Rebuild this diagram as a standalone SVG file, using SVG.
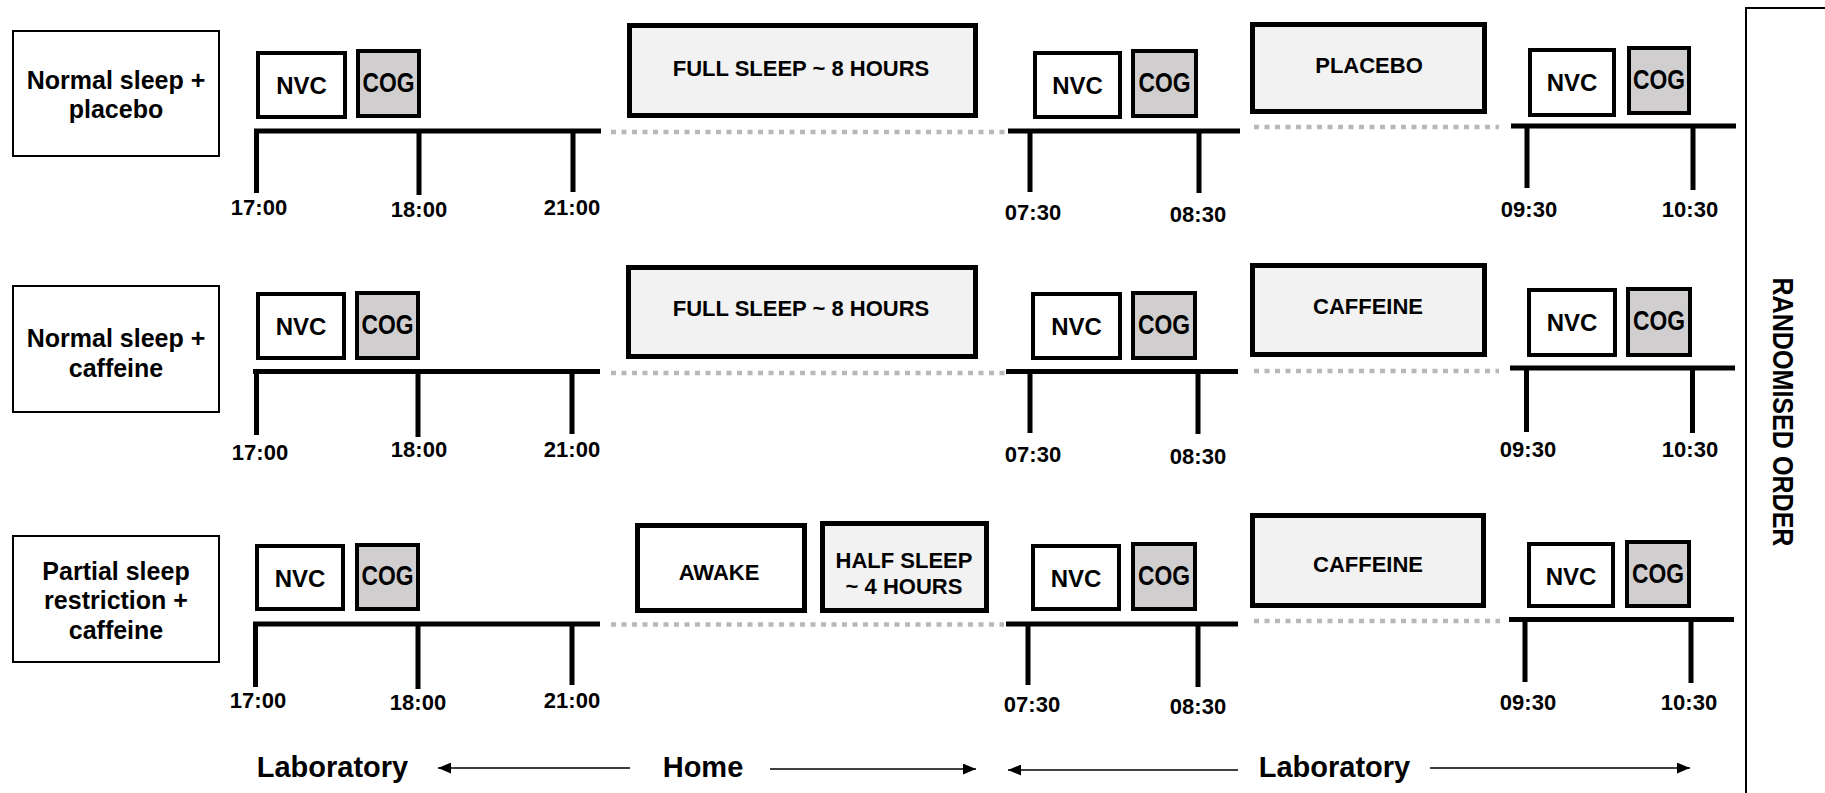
<svg xmlns="http://www.w3.org/2000/svg" width="1825" height="793" viewBox="0 0 1825 793">
<style>
text{font-family:"Liberation Sans",Arial,sans-serif;font-weight:bold;fill:#000;text-anchor:middle}
.lbl{fill:#fff;stroke:#000;stroke-width:2}
.nvc{fill:#fff;stroke:#000;stroke-width:4}
.cog{fill:#d0cece;stroke:#000;stroke-width:4}
.big{fill:#f2f2f2;stroke:#000;stroke-width:5}
.awk{fill:#fff;stroke:#000;stroke-width:5}
.t25{font-size:25px}
.t24{font-size:24px}
.t28{font-size:28px}
.t22{font-size:22px}
.t29{font-size:29px}
.tl{stroke:#000;stroke-width:5;fill:none}
.dot{stroke:#b8b8b8;stroke-width:4.5;stroke-dasharray:5 5.5;fill:none}
.arr{stroke:#000;stroke-width:1.6;fill:none;marker-end:url(#ah)}
</style>
<defs>
<marker id="ah" markerUnits="userSpaceOnUse" markerWidth="13" markerHeight="11" refX="12" refY="5" orient="auto" viewBox="0 0 12 10">
<path d="M0,0 L12,5 L0,10 z" fill="#000"/>
</marker>
</defs>
<rect x="0" y="0" width="1825" height="793" fill="#fff"/>

<!-- Row labels -->
<g id="label-row1"><rect class="lbl" x="13" y="31" width="206" height="125"/>
<text class="t25" x="116" y="89">Normal sleep +</text><text class="t25" x="116" y="118">placebo</text></g>
<g id="label-row2"><rect class="lbl" x="13" y="286" width="206" height="126"/>
<text class="t25" x="116" y="347">Normal sleep +</text><text class="t25" x="116" y="377">caffeine</text></g>
<g id="label-row3"><rect class="lbl" x="13" y="536" width="206" height="126"/>
<text class="t25" x="116" y="580">Partial sleep</text><text class="t25" x="116" y="609">restriction +</text><text class="t25" x="116" y="639">caffeine</text></g>

<!-- Row 1 -->
<g id="r1-nvc1"><rect class="nvc" x="258" y="53" width="87" height="64"/><text class="t24" x="301.5" y="94">NVC</text></g>
<g id="r1-cog1"><rect class="cog" x="358" y="51" width="61" height="65"/><text class="t28" x="388.5" y="92" textLength="52" lengthAdjust="spacingAndGlyphs">COG</text></g>
<g id="r1-sleep"><rect class="big" x="629.5" y="25.5" width="346" height="90"/><text class="t22" x="801" y="76">FULL SLEEP ~ 8 HOURS</text></g>
<g id="r1-nvc2"><rect class="nvc" x="1035" y="53" width="85" height="64"/><text class="t24" x="1077.5" y="94">NVC</text></g>
<g id="r1-cog2"><rect class="cog" x="1133" y="51" width="63" height="65"/><text class="t28" x="1164.5" y="92" textLength="52" lengthAdjust="spacingAndGlyphs">COG</text></g>
<g id="r1-drug"><rect class="big" x="1252.5" y="24.5" width="232" height="87"/><text class="t22" x="1369" y="73">PLACEBO</text></g>
<g id="r1-nvc3"><rect class="nvc" x="1530" y="50" width="84" height="65"/><text class="t24" x="1572" y="91">NVC</text></g>
<g id="r1-cog3"><rect class="cog" x="1629" y="48" width="60" height="65"/><text class="t28" x="1659" y="89" textLength="52" lengthAdjust="spacingAndGlyphs">COG</text></g>

<!-- Row 2 -->
<g id="r2-nvc1"><rect class="nvc" x="258" y="294" width="86" height="64"/><text class="t24" x="301" y="335">NVC</text></g>
<g id="r2-cog1"><rect class="cog" x="357" y="293" width="61" height="65"/><text class="t28" x="387.5" y="334" textLength="52" lengthAdjust="spacingAndGlyphs">COG</text></g>
<g id="r2-sleep"><rect class="big" x="628.5" y="267.5" width="347" height="89"/><text class="t22" x="801" y="316">FULL SLEEP ~ 8 HOURS</text></g>
<g id="r2-nvc2"><rect class="nvc" x="1033" y="294" width="87" height="64"/><text class="t24" x="1076.5" y="335">NVC</text></g>
<g id="r2-cog2"><rect class="cog" x="1133" y="293" width="62" height="65"/><text class="t28" x="1164" y="334" textLength="52" lengthAdjust="spacingAndGlyphs">COG</text></g>
<g id="r2-drug"><rect class="big" x="1252.5" y="265.5" width="232" height="89"/><text class="t22" x="1368" y="314">CAFFEINE</text></g>
<g id="r2-nvc3"><rect class="nvc" x="1529" y="290" width="86" height="65"/><text class="t24" x="1572" y="331">NVC</text></g>
<g id="r2-cog3"><rect class="cog" x="1628" y="289" width="62" height="66"/><text class="t28" x="1659" y="330" textLength="52" lengthAdjust="spacingAndGlyphs">COG</text></g>

<!-- Row 3 -->
<g id="r3-nvc1"><rect class="nvc" x="257" y="546" width="86" height="63"/><text class="t24" x="300" y="587">NVC</text></g>
<g id="r3-cog1"><rect class="cog" x="357" y="545" width="61" height="64"/><text class="t28" x="387.5" y="585" textLength="52" lengthAdjust="spacingAndGlyphs">COG</text></g>
<g id="r3-awake"><rect class="awk" x="637.5" y="525.5" width="167" height="85"/><text class="t22" x="719" y="580">AWAKE</text></g>
<g id="r3-sleep"><rect class="big" x="822.5" y="523.5" width="164" height="87"/><text class="t22" x="904" y="568">HALF SLEEP</text><text class="t22" x="904" y="594">~ 4 HOURS</text></g>
<g id="r3-nvc2"><rect class="nvc" x="1033" y="546" width="86" height="63"/><text class="t24" x="1076" y="587">NVC</text></g>
<g id="r3-cog2"><rect class="cog" x="1133" y="544" width="62" height="65"/><text class="t28" x="1164" y="585" textLength="52" lengthAdjust="spacingAndGlyphs">COG</text></g>
<g id="r3-drug"><rect class="big" x="1252.5" y="515.5" width="231" height="90"/><text class="t22" x="1368" y="572">CAFFEINE</text></g>
<g id="r3-nvc3"><rect class="nvc" x="1529" y="544" width="84" height="62"/><text class="t24" x="1571" y="585">NVC</text></g>
<g id="r3-cog3"><rect class="cog" x="1627" y="542" width="62" height="64"/><text class="t28" x="1658" y="583" textLength="52" lengthAdjust="spacingAndGlyphs">COG</text></g>

<!-- Timelines -->
<g id="timelines">
<path class="tl" d="M254,131 H601 M256.5,131 V193 M419,131 V195 M573,131 V192"/>
<path class="tl" d="M1008,131 H1240 M1030,131 V192 M1199,131 V193"/>
<path class="tl" d="M1511,126 H1736 M1527,126 V188 M1693,126 V190"/>
<path class="tl" d="M253,371.5 H600 M256.5,371.5 V435 M418,371.5 V437 M572,371.5 V434"/>
<path class="tl" d="M1006,371.5 H1238 M1030,371.5 V433 M1198,371.5 V434"/>
<path class="tl" d="M1510,368 H1735 M1526.5,368 V432 M1692.5,368 V433"/>
<path class="tl" d="M253,624 H600 M255.5,624 V687 M418,624 V689 M572,624 V685"/>
<path class="tl" d="M1006,624 H1238 M1028,624 V685 M1198,624 V687"/>
<path class="tl" d="M1509,619.5 H1734 M1525,619.5 V682 M1691,619.5 V683"/>
</g>
<g id="dotted">
<path class="dot" d="M611,132 H1006"/>
<path class="dot" d="M1254,127 H1499"/>
<path class="dot" d="M611,373 H1006"/>
<path class="dot" d="M1254,371 H1499"/>
<path class="dot" d="M611,624.5 H1004"/>
<path class="dot" d="M1254,621 H1500"/>
</g>

<!-- Time labels -->
<g id="times">
<text class="t22" x="259" y="215">17:00</text><text class="t22" x="419" y="217">18:00</text><text class="t22" x="572" y="215">21:00</text>
<text class="t22" x="1033" y="220">07:30</text><text class="t22" x="1198" y="222">08:30</text>
<text class="t22" x="1529" y="217">09:30</text><text class="t22" x="1690" y="217">10:30</text>
<text class="t22" x="260" y="460">17:00</text><text class="t22" x="419" y="457">18:00</text><text class="t22" x="572" y="457">21:00</text>
<text class="t22" x="1033" y="462">07:30</text><text class="t22" x="1198" y="464">08:30</text>
<text class="t22" x="1528" y="457">09:30</text><text class="t22" x="1690" y="457">10:30</text>
<text class="t22" x="258" y="708">17:00</text><text class="t22" x="418" y="710">18:00</text><text class="t22" x="572" y="708">21:00</text>
<text class="t22" x="1032" y="712">07:30</text><text class="t22" x="1198" y="714">08:30</text>
<text class="t22" x="1528" y="710">09:30</text><text class="t22" x="1689" y="710">10:30</text>
</g>

<!-- Randomised order -->
<g id="randomised">
<rect x="1746" y="8" width="120" height="820" fill="none" stroke="#000" stroke-width="2"/>
<text class="t29" transform="translate(1773,412) rotate(90)" x="0" y="0" textLength="269" lengthAdjust="spacingAndGlyphs">RANDOMISED ORDER</text>
</g>

<!-- Location labels -->
<g id="locations">
<text class="t29" x="332.5" y="777">Laboratory</text>
<text class="t29" x="703" y="777">Home</text>
<text class="t29" x="1334.5" y="777">Laboratory</text>
</g>

<g id="connectors">
<line class="arr" x1="630" y1="768" x2="438" y2="768"/>
<line class="arr" x1="770" y1="769" x2="976" y2="769"/>
<line class="arr" x1="1238" y1="770" x2="1008" y2="770"/>
<line class="arr" x1="1430" y1="768" x2="1690" y2="768"/>
</g>
</svg>
